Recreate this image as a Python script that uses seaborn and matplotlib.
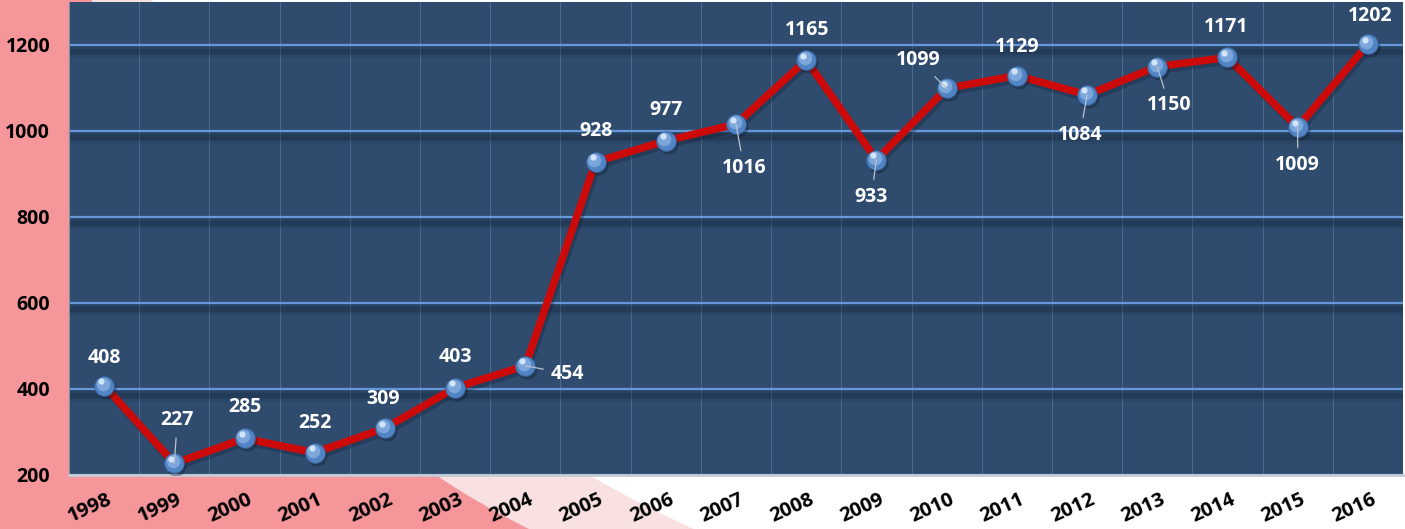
import numpy as np
import pandas as pd
import matplotlib
matplotlib.use("Agg")
import matplotlib.pyplot as plt
import matplotlib.patheffects as pe
from matplotlib.patches import Polygon
from matplotlib.transforms import ScaledTranslation
import seaborn as sns

# ---------------- data ----------------
years = ["1998", "1999", "2000", "2001", "2002", "2003", "2004", "2005", "2006", "2007",
         "2008", "2009", "2010", "2011", "2012", "2013", "2014", "2015", "2016"]
values = [408, 227, 285, 252, 309, 403, 454, 928, 977, 1016,
          1165, 933, 1099, 1129, 1084, 1150, 1171, 1009, 1202]
y_ticks = [200, 400, 600, 800, 1000, 1200]

# label placement (pixel offsets from the point, dy up) and whether a leader line is drawn
label_offsets = [(0, 28), (3, 43), (0, 31), (0, 30), (-2, 29), (0, 31), (42, -8), (0, 31),
                 (0, 31), (8, -44), (1, 30), (-5, -37), (-28, 28), (0, 29), (-7, -40),
                 (12, -39), (-1, 30), (0, -38), (2, 28)]
leaders = [False, True, False, False, False, False, True, False, False, True,
           False, True, True, False, True, True, False, True, False]

df = pd.DataFrame({"year": years, "value": values})

W, H = 1405, 529
DPI = 100
PT = 72.0 / DPI  # points per pixel

sns.set_style("white")
plt.rcParams["font.family"] = ["Open Sans", "DejaVu Sans"]

fig = plt.figure(figsize=(W / DPI, H / DPI), dpi=DPI, facecolor="white")

# ---------- decorative background ----------
def arc_poly(a, b, r, color, z):
    ys = np.linspace(0, H, 300)
    xs = a - np.sqrt(r ** 2 - (ys - b) ** 2)
    pts = [(0, 0)] + list(zip(xs, ys)) + [(0, H)]
    pts = [(x / W, 1 - y / H) for x, y in pts]
    fig.patches.append(Polygon(pts, closed=True, transform=fig.transFigure,
                               facecolor=color, edgecolor="none", zorder=z))

arc_poly(1143, -473, 1098, "#F9E1E1", -3)
arc_poly(904, -226, 843, "#F4969A", -2)

# ---------- axes ----------
ax = fig.add_axes([69 / W, 54 / H, (1403 - 69) / W, (475 - 2) / H])
ax.set_facecolor("#2F4C6F")

sns.lineplot(data=df, x="year", y="value", ax=ax, color="#CC0A0A", lw=5.4,
             sort=False, zorder=3,
             path_effects=[pe.SimpleLineShadow(offset=(1.5, -2.5), shadow_color="#0e1a2a",
                                                alpha=0.3), pe.Normal()])

# spheres: shadow, base, highlight, specular
sns.scatterplot(data=df, x="year", y="value", ax=ax, s=210, color="#0e1a2a",
                alpha=0.35, linewidth=0, zorder=4, legend=False)
ax.collections[-1].set_offset_transform(
    ax.transData + ScaledTranslation(2 / DPI, -3 / DPI, fig.dpi_scale_trans))
sns.scatterplot(data=df, x="year", y="value", ax=ax, s=200, color="#5084C4",
                edgecolor="#3A6399", linewidth=0.6, zorder=5, legend=False)
sns.scatterplot(data=df, x="year", y="value", ax=ax, s=95, color="#86AEE0",
                linewidth=0, alpha=0.85, zorder=6, legend=False)
ax.collections[-1].set_offset_transform(
    ax.transData + ScaledTranslation(-1.5 / DPI, 2 / DPI, fig.dpi_scale_trans))
sns.scatterplot(data=df, x="year", y="value", ax=ax, s=20, color="#DCEBFB",
                linewidth=0, alpha=0.9, zorder=7, legend=False)
ax.collections[-1].set_offset_transform(
    ax.transData + ScaledTranslation(-3 / DPI, 4.5 / DPI, fig.dpi_scale_trans))

# data labels
for yr, v, (dx, dy), lead in zip(years, values, label_offsets, leaders):
    kw = {}
    if lead:
        kw["arrowprops"] = dict(arrowstyle="-", color="#B8C2CE", lw=0.9,
                                shrinkA=3, shrinkB=0)
    ax.annotate(str(v), xy=(yr, v), xytext=(dx * PT, dy * PT),
                textcoords="offset points", ha="center", va="center",
                color="white", fontsize=14, fontweight="bold", zorder=8, **kw)

# axes limits / ticks
ax.set_xlim(-0.5, len(years) - 0.5)
ax.set_ylim(200, 1300)
ax.set_yticks(y_ticks)
ax.set_xlabel("")
ax.set_ylabel("")
ax.tick_params(axis="y", length=0, pad=13.5, labelsize=14, labelcolor="black")
ax.tick_params(axis="x", which="major", length=0, pad=17, labelsize=14.5, labelcolor="black")
ax.tick_params(axis="x", which="minor", length=0)
for lab in ax.get_yticklabels():
    lab.set_fontweight("bold")
for lab in ax.get_xticklabels():
    lab.set_fontweight("bold")
    lab.set_rotation(24)
    lab.set_rotation_mode("anchor")
    lab.set_ha("right")
    lab.set_va("center")
    lab.set_transform(lab.get_transform() +
                      ScaledTranslation(7 / DPI, 0, fig.dpi_scale_trans))

# grid
ax.set_xticks(np.arange(0.5, len(years) - 1, 1.0), minor=True)
ax.grid(False)
ax.xaxis.grid(True, which="minor", color="#4A6A8E", lw=0.8)
ax.yaxis.grid(True, which="major", color="#6697D8", lw=1.6)
ax.set_axisbelow(True)
shadow = [pe.SimpleLineShadow(offset=(0, -6 * PT), shadow_color="#142437",
                              alpha=a, linewidth=w)
          for a, w in [(0.12, 9), (0.15, 6), (0.2, 3.5)]]
for gl in ax.get_ygridlines():
    gl.set_path_effects(shadow + [pe.Normal()])

for side in ["top", "right"]:
    ax.spines[side].set_visible(False)
ax.spines["left"].set_color("#7B8FA8")
ax.spines["left"].set_linewidth(0.8)
ax.spines["bottom"].set_color("#C5CCD4")
ax.spines["bottom"].set_linewidth(2)

fig.savefig("out.png", dpi=DPI, facecolor=fig.get_facecolor())
